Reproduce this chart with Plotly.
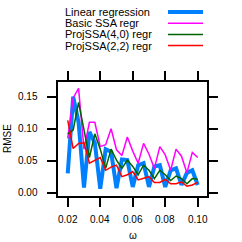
import plotly.graph_objects as go

omega = [0.02 + i * (0.08 / 24) for i in range(25)]

linear_regression = [0.030, 0.150, 0.110, 0.008, 0.095, 0.078, 0.006, 0.068, 0.064, 0.007,
                     0.052, 0.051, 0.009, 0.043, 0.046, 0.009, 0.041, 0.043, 0.009, 0.035,
                     0.038, 0.012, 0.031, 0.035, 0.012]
basic_ssa = [0.085, 0.148, 0.163, 0.068, 0.110, 0.110, 0.072, 0.075, 0.100, 0.067,
             0.058, 0.087, 0.065, 0.046, 0.077, 0.060, 0.038, 0.072, 0.059, 0.035,
             0.068, 0.057, 0.031, 0.063, 0.055]
proj_40 = [0.092, 0.098, 0.141, 0.100, 0.055, 0.092, 0.068, 0.038, 0.068, 0.051,
           0.038, 0.051, 0.041, 0.028, 0.043, 0.035, 0.022, 0.035, 0.028, 0.019,
           0.026, 0.022, 0.014, 0.022, 0.021]
proj_22 = [0.113, 0.069, 0.077, 0.078, 0.046, 0.050, 0.055, 0.035, 0.040, 0.043,
           0.025, 0.028, 0.033, 0.020, 0.022, 0.025, 0.016, 0.016, 0.021, 0.014,
           0.014, 0.017, 0.010, 0.012, 0.016]

series_names = ["Linear regression", "Basic SSA regr", "ProjSSA(4,0) regr", "ProjSSA(2,2) regr"]
series_values = [linear_regression, basic_ssa, proj_40, proj_22]
colors = ["#0080ff", "#ff00ff", "#006400", "#ff0000"]
widths = [4, 1.5, 1.5, 1.5]

x_ticks = [0.02, 0.04, 0.06, 0.08, 0.10]
x_tick_labels = ["0.02", "0.04", "0.06", "0.08", "0.10"]
y_ticks = [0.00, 0.05, 0.10, 0.15]
y_tick_labels = ["0.00", "0.05", "0.10", "0.15"]

fig = go.Figure()
for name, vals, c, w in zip(series_names, series_values, colors, widths):
    fig.add_trace(go.Scatter(x=omega, y=vals, mode="lines", name=name,
                             line=dict(color=c, width=w), showlegend=False))

SIZE = 242
L, R, T, B = 58, 207, 82, 196
W, H = R - L, B - T

def px(x):
    return (x - L) / W

def py(y):
    return (B - y) / H

FONT = "Liberation Sans, Arial, sans-serif"
annotations = []
shapes = []
rows = [12, 23.2, 34.4, 45.6]
for name, c, w, ry in zip(series_names, colors, widths, rows):
    annotations.append(dict(x=px(63), y=py(ry), xref="paper", yref="paper", text=name,
                            showarrow=False, xanchor="left", yanchor="middle",
                            font=dict(size=11, color="black")))
    shapes.append(dict(type="line", xref="paper", yref="paper", x0=px(168), x1=px(203),
                       y0=py(ry), y1=py(ry), line=dict(color=c, width=w)))

# tick labels placed explicitly
for v, t in zip(y_ticks, y_tick_labels):
    annotations.append(dict(x=px(40), y=v, xref="paper", yref="y", text=t,
                            showarrow=False, xanchor="right", yanchor="middle",
                            font=dict(size=10, color="black")))
for v, t in zip(x_ticks, x_tick_labels):
    annotations.append(dict(x=v, y=py(219.5), xref="x", yref="paper", text=t,
                            showarrow=False, xanchor="center", yanchor="middle",
                            font=dict(size=10, color="black")))

annotations.append(dict(x=px(7), y=0.5, xref="paper", yref="paper", text="RMSE",
                        textangle=-90, showarrow=False, xanchor="center", yanchor="middle",
                        font=dict(size=10, color="black")))
annotations.append(dict(x=px(133), y=py(235), xref="paper", yref="paper", text="ω",
                        showarrow=False, xanchor="center", yanchor="middle",
                        font=dict(size=10, color="black")))

axis_common = dict(showgrid=False, zeroline=False, showline=True, linecolor="black",
                   linewidth=1.5, mirror="ticks", ticks="outside", ticklen=9, tickwidth=1.5,
                   tickcolor="black", showticklabels=False, automargin=False)

fig.update_layout(
    template="none",
    width=SIZE, height=SIZE,
    margin=dict(l=L, r=SIZE - R, t=T, b=SIZE - B, pad=0),
    paper_bgcolor="white", plot_bgcolor="white",
    font=dict(family=FONT, size=10, color="black"),
    annotations=annotations, shapes=shapes,
    xaxis=dict(range=[0.014, 0.1057], tickvals=x_ticks, **axis_common),
    yaxis=dict(range=[-0.0052, 0.173], tickvals=y_ticks, **axis_common),
)

fig.write_html("out.html", config={"displayModeBar": False},
               post_script="document.body.style.margin='0';document.body.style.padding='0';document.body.style.overflow='hidden';")
